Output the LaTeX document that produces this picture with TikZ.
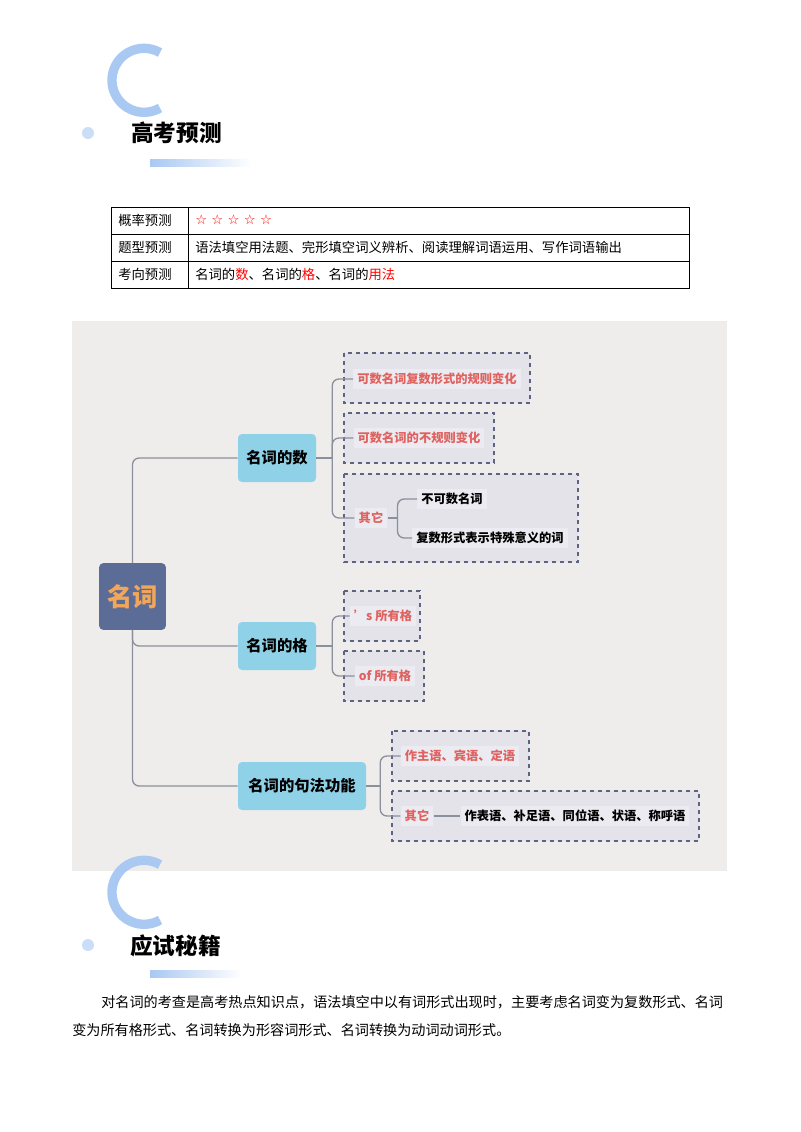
\documentclass[tikz,border=0pt]{standalone}
\usepackage{fontspec}
\setmainfont{Noto Sans CJK SC}
\newfontfamily\symf{DejaVu Sans}
\usetikzlibrary{calc}
\definecolor{bgc}{HTML}{EFEDEB}
\definecolor{rootc}{HTML}{5B6D96}
\definecolor{roott}{HTML}{F2A65A}
\definecolor{bluec}{HTML}{8FD1E6}
\definecolor{redt}{HTML}{E0625F}
\definecolor{dashc}{HTML}{5C6482}
\definecolor{boxf}{HTML}{E3E3E9}
\definecolor{labf}{HTML}{EBEBF1}
\definecolor{linec}{HTML}{8A909C}
\definecolor{hdrc}{HTML}{A9C8F2}
\tikzset{
 cell/.style={anchor=west,font=\fontsize{10}{12}\selectfont,inner sep=0pt},
 mainbox/.style={fill=bluec,rounded corners=3pt,minimum height=36pt,font=\fontsize{11.5}{13}\bfseries\selectfont,inner sep=3pt},
 dbox/.style={draw=dashc,dashed,line width=1.2pt,fill=boxf},
 lab/.style={fill=labf,inner sep=3pt,font=\fontsize{9.2}{11}\bfseries\selectfont,text=redt},
 labk/.style={fill=labf,inner sep=3pt,font=\fontsize{9.2}{11}\bfseries\selectfont,text=black},
 conn/.style={draw=linec,line width=1pt,rounded corners=5pt},
 hdrtitle/.style={font=\fontsize{17}{20}\bfseries\selectfont,anchor=west,inner sep=0pt},
 body/.style={font=\fontsize{10.6}{13}\selectfont,anchor=west,inner sep=0pt}
}
\begin{document}
\begin{tikzpicture}[x=0.75pt,y=-0.75pt]
\useasboundingbox (0,0) rectangle (800,1132);
\fill[white] (0,0) rectangle (800,1132);
% header 1
\fill[hdrc!60] (88,133) circle (6);
\draw[hdrc,line width=7pt] (160,108) arc (60:300:32);
\shade[left color=hdrc,right color=white] (150,159) rectangle (252,166);
\node[hdrtitle] (h1) at (131,133) {高考预测};
% table
\draw[line width=0.6pt] (111,207) rectangle (689,288);
\draw[line width=0.6pt] (111,234) -- (689,234) (111,261) -- (689,261) (188,207) -- (188,288);
\node[cell] (t11) at (118,220) {概率预测};
\node[cell,text=red] (t12) at (195,220) {\symf ☆ ☆ ☆ ☆ ☆};
\node[cell] (t21) at (118,247) {题型预测};
\node[cell] (t22) at (195,247) {语法填空用法题、完形填空词义辨析、阅读理解词语运用、写作词语输出};
\node[cell] (t31) at (118,274) {考向预测};
\node[cell] (t32) at (195,274) {名词的{\color{red}数}、名词的{\color{red}格}、名词的{\color{red}用法}};
% mind map bg
\fill[bgc] (72,321) rectangle (727,871);
% dashed boxes
\draw[dbox] (344,353) rectangle (530,403);
\draw[dbox] (344,413) rectangle (494,463);
\draw[dbox] (344,474) rectangle (578,562);
\draw[dbox] (344,591) rectangle (420,641);
\draw[dbox] (344,651) rectangle (424,701);
\draw[dbox] (392,731) rectangle (529,781);
\draw[dbox] (392,791) rectangle (699,841);
% nodes
\node[fill=rootc,rounded corners=3pt,minimum width=50pt,minimum height=50pt,text=roott,font=\fontsize{19}{22}\bfseries\selectfont] (root) at (132.5,596.5) {名词};
\node[mainbox,minimum width=58.5pt] (num) at (277,458) {名词的数};
\node[mainbox,minimum width=58.5pt] (cas) at (277,646) {名词的格};
\node[mainbox,minimum width=96pt] (syn) at (302,786) {名词的句法功能};
\node[lab] (n1) at (437,379) {可数名词复数形式的规则变化};
\node[lab] (n2) at (419,438) {可数名词的不规则变化};
\node[lab] (n3) at (371,518) {其它};
\node[labk] (n31) at (452,499) {不可数名词};
\node[labk] (n32) at (490,538) {复数形式表示特殊意义的词};
\node[lab] (c1) at (383,616) {'s 所有格};
\node[lab] (c2) at (385,676) {of 所有格};
\node[lab] (s1) at (460,756) {作主语、宾语、定语};
\node[lab] (s2) at (417,816) {其它};
\node[labk] (s21) at (575,816) {作表语、补足语、同位语、状语、称呼语};
% connectors
\draw[conn] (root.north) |- (num.west);
\draw[conn] (root.south) |- (syn.west);
\draw[conn] (root.south) |- (cas.west);
\draw[conn] (num.east) -- ++(16,0) coordinate (bn);
\draw[conn] (n1.west) -| (bn) |- (n3.west);
\draw[conn] (bn) |- (n2.west);
\draw[conn] (n3.east) -- ++(10,0) coordinate (bo);
\draw[conn] (n31.west) -| (bo) |- (n32.west);
\draw[conn] (cas.east) -- ++(16,0) coordinate (bc);
\draw[conn] (c1.west) -| (bc) |- (c2.west);
\draw[conn] (syn.east) -- ++(14,0) coordinate (bs);
\draw[conn] (s1.west) -| (bs) |- (s2.west);
\draw[conn] (s2.east) -- (s21.west);
% header 2
\fill[hdrc!60] (88,945) circle (6);
\draw[hdrc,line width=7pt] (160,920) arc (60:300:32);
\shade[left color=hdrc,right color=white] (150,970) rectangle (242,977);
\node[hdrtitle] (h2) at (130,946) {应试秘籍};
% paragraph
\node[body] (p1) at (101,1002) {对名词的考查是高考热点知识点，语法填空中以有词形式出现时，主要考虑名词变为复数形式、名词};
\node[body] (p2) at (72,1030) {变为所有格形式、名词转换为形容词形式、名词转换为动词动词形式。};
\end{tikzpicture}
\end{document}
